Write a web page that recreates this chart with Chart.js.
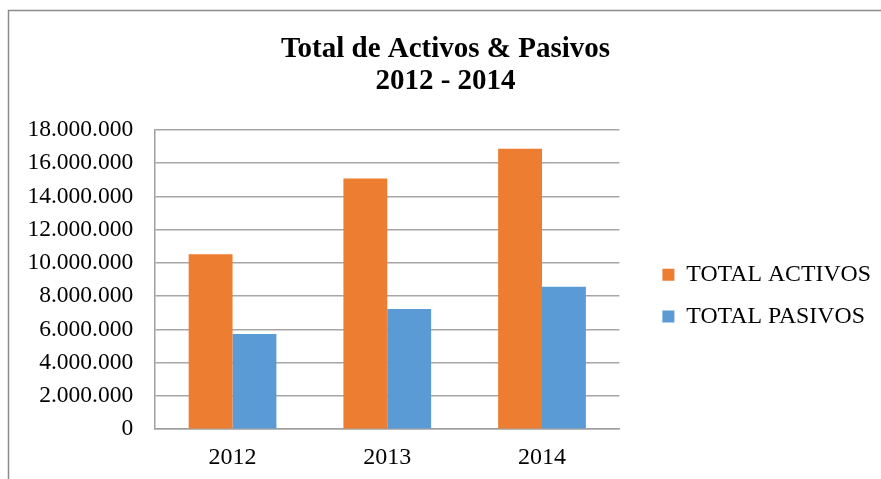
<!DOCTYPE html>
<html>
<head>
<meta charset="utf-8">
<script src="https://cdn.jsdelivr.net/npm/chart.js@4.4.1/dist/chart.umd.min.js"></script>
<style>
  html, body { margin: 0; padding: 0; background: #fff; }
  #wrap { position: relative; width: 881px; height: 479px; }
</style>
</head>
<body>
<div id="wrap"><canvas id="chart" width="881" height="479"></canvas></div>
<script>
const years = ['2012', '2013', '2014'];
const totalActivos = [10520000, 15080000, 16870000];
const totalPasivos = [5720000, 7230000, 8570000];
const titleLines = ['Total de Activos & Pasivos', '2012 - 2014'];

// outer frame like the exported picture
const framePlugin = {
  id: 'frame',
  beforeDraw(chart) {
    const c = chart.ctx;
    c.save();
    c.fillStyle = '#fff';
    c.fillRect(0, 0, chart.width, chart.height);
    c.strokeStyle = '#8c8c8c';
    c.lineWidth = 1.5;
    c.beginPath();
    c.moveTo(8.5, chart.height);
    c.lineTo(8.5, 10.5);
    c.lineTo(chart.width, 10.5);
    c.stroke();
    c.restore();
  }
};

const fmt = v => v === 0 ? '0' : v.toLocaleString('de-DE');
const serif = 'Liberation Serif';

new Chart(document.getElementById('chart'), {
  type: 'bar',
  data: {
    labels: years,
    datasets: [
      { label: 'TOTAL ACTIVOS', data: totalActivos, backgroundColor: '#ED7D31' },
      { label: 'TOTAL PASIVOS', data: totalPasivos, backgroundColor: '#5B9BD5' }
    ]
  },
  options: {
    responsive: false,
    animation: false,
    layout: { padding: { left: 10, right: 0, top: 33, bottom: 7 } },
    datasets: { bar: { categoryPercentage: 0.567, barPercentage: 1 } },
    scales: {
      x: {
        grid: { display: false, drawTicks: false },
        border: { color: '#a0a0a0', width: 1.5 },
        ticks: { color: '#000', padding: 14, font: { family: serif, size: 24 } },
        // chart.js counts tick padding twice, keep only the inner one
        afterFit(scale) { scale.height -= 14; }
      },
      y: {
        min: 0, max: 18000000,
        grid: { color: '#a6a6a6', lineWidth: 1.5, drawTicks: false },
        border: { color: '#a0a0a0', width: 1.5 },
        ticks: {
          stepSize: 2000000, color: '#000', padding: 22,
          font: { family: serif, size: 23.5 },
          callback: v => fmt(v)
        }
      },
      // spacer between the plot and the legend
      gap: {
        position: 'right', display: true,
        grid: { display: false }, border: { display: false },
        ticks: { display: false },
        afterFit(scale) { scale.width = 25; }
      }
    },
    plugins: {
      title: {
        display: true, text: titleLines, color: '#000',
        font: { family: serif, size: 29, weight: 'bold', lineHeight: 1.12 },
        padding: { top: 0, bottom: 32 }
      },
      legend: {
        position: 'right',
        fullSize: false,
        maxWidth: 237,
        title: { display: true, text: ' ', font: { size: 10, lineHeight: 1 }, padding: 11 },
        labels: {
          color: '#000', boxWidth: 12, boxHeight: 12, padding: 18,
          font: { family: serif, size: 23.8 }
        }
      },
      tooltip: { enabled: false }
    }
  },
  plugins: [framePlugin]
});
</script>
</body>
</html>
